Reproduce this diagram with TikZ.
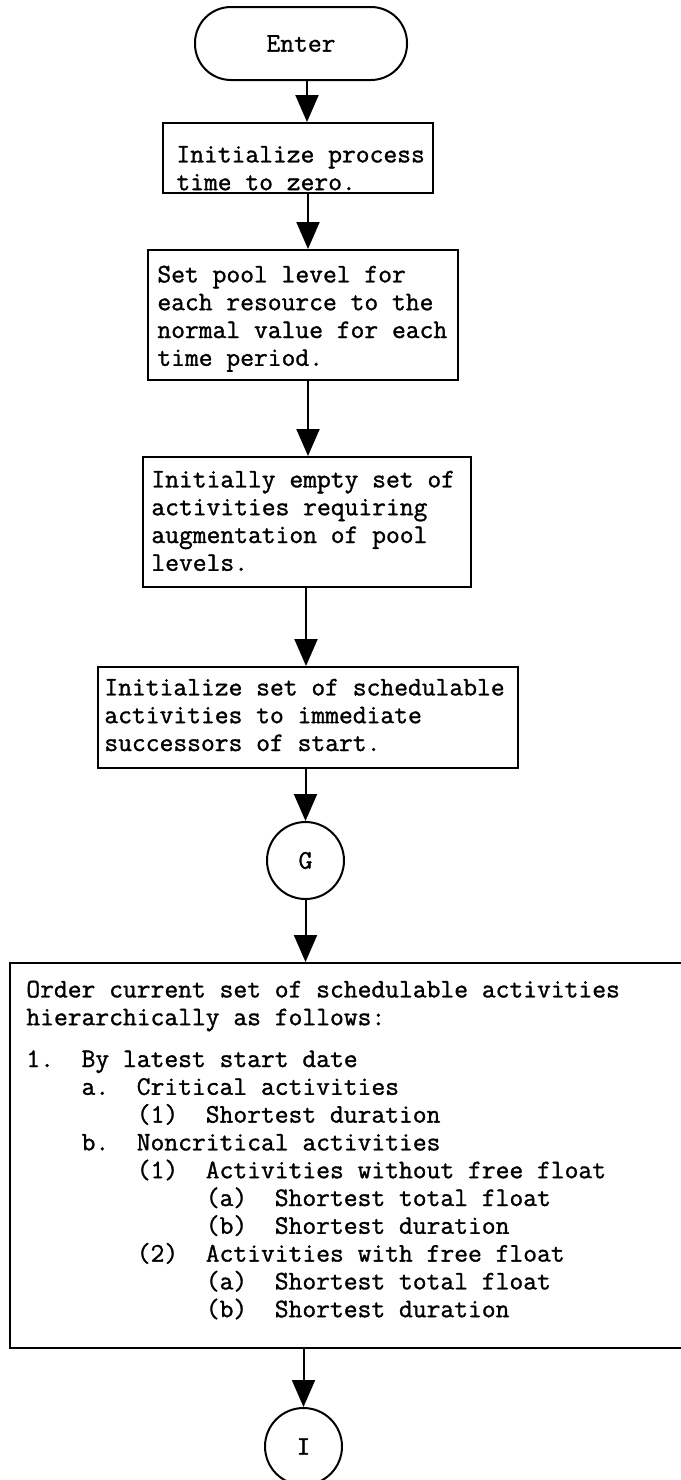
\documentclass[tikz,border=0pt]{standalone}
\usepackage{fontspec}
\newfontfamily\tw[FakeBold=1.2]{Latin Modern Mono}
\usetikzlibrary{arrows.meta}
\newcommand\tstrut{\rule{0pt}{10pt}}
\newcommand\ind[1]{\hspace*{#1\fontcharwd\font`\x}}
\begin{document}
\begin{tikzpicture}[x=0.5pt,y=-0.5pt,
  box/.style={draw, line width=1pt, inner sep=0pt},
  tw/.style={font=\tw\fontsize{13.4}{13.9}\selectfont},
  txt/.style={tw, align=left, inner sep=0pt, anchor=north west},
  conn/.style={draw, circle, line width=1pt, inner sep=0pt, minimum size=38.5pt, tw},
  arr/.style={line width=1pt, -{Triangle[length=13.5pt,width=11.5pt]}}]
\useasboundingbox (0,0) rectangle (681,1480);
\fill[white] (0,0) rectangle (681,1480);

\node[box, tw, rounded corners=18pt, minimum width=106pt, minimum height=36.5pt] (enter) at (301,43.5) {Enter};

\node[box, minimum width=135pt, minimum height=35pt] (b1) at (298,158) {};
\node[txt] (t1) at (176,142) {\tstrut Initialize process\\time to zero.};

\node[box, minimum width=155pt, minimum height=65pt] (b2) at (303,315) {};
\node[txt] (t2) at (157,262) {\tstrut Set pool level for\\each resource to the\\normal value for each\\time period.};

\node[box, minimum width=164pt, minimum height=65pt] (b3) at (307,522) {};
\node[txt] (t3) at (151,467) {\tstrut Initially empty set of\\activities requiring\\augmentation of pool\\levels.};

\node[box, minimum width=210pt, minimum height=50.5pt] (b4) at (308,717.5) {};
\node[txt] (t4) at (104,675) {\tstrut Initialize set of schedulable\\activities to immediate\\successors of start.};

\node[conn] (G) at (305.5,860.5) {G};

\node[box, minimum width=345pt, minimum height=192.5pt] (b5) at (355,1155.5) {};
\node[txt] (t5) at (26,977) {\tstrut Order current set of schedulable activities\\
hierarchically as follows:\\[7pt]
1.\ind{2}By latest start date\\
\ind{4}a.\ind{2}Critical activities\\
\ind{8}(1)\ind{2}Shortest duration\\
\ind{4}b.\ind{2}Noncritical activities\\
\ind{8}(1)\ind{2}Activities without free float\\
\ind{13}(a)\ind{2}Shortest total float\\
\ind{13}(b)\ind{2}Shortest duration\\
\ind{8}(2)\ind{2}Activities with free float\\
\ind{13}(a)\ind{2}Shortest total float\\
\ind{13}(b)\ind{2}Shortest duration};

\node[conn] (I) at (303.5,1446.5) {I};

\coordinate (xa) at (307,0);
\coordinate (xb) at (308,0);
\coordinate (xc) at (306,0);
\draw[arr] (enter.south -| xa) -- (b1.north -| xa);
\draw[arr] (b1.south -| xb) -- (b2.north -| xb);
\draw[arr] (b2.south -| xb) -- (b3.north -| xb);
\draw[arr] (b3.south -| xc) -- (b4.north -| xc);
\draw[arr] (b4.south -| G.north) -- (G.north);
\draw[arr] (G.south) -- (G.south |- b5.north);
\draw[arr] (b5.south -| I.north) -- (I.north);
\end{tikzpicture}
\end{document}
